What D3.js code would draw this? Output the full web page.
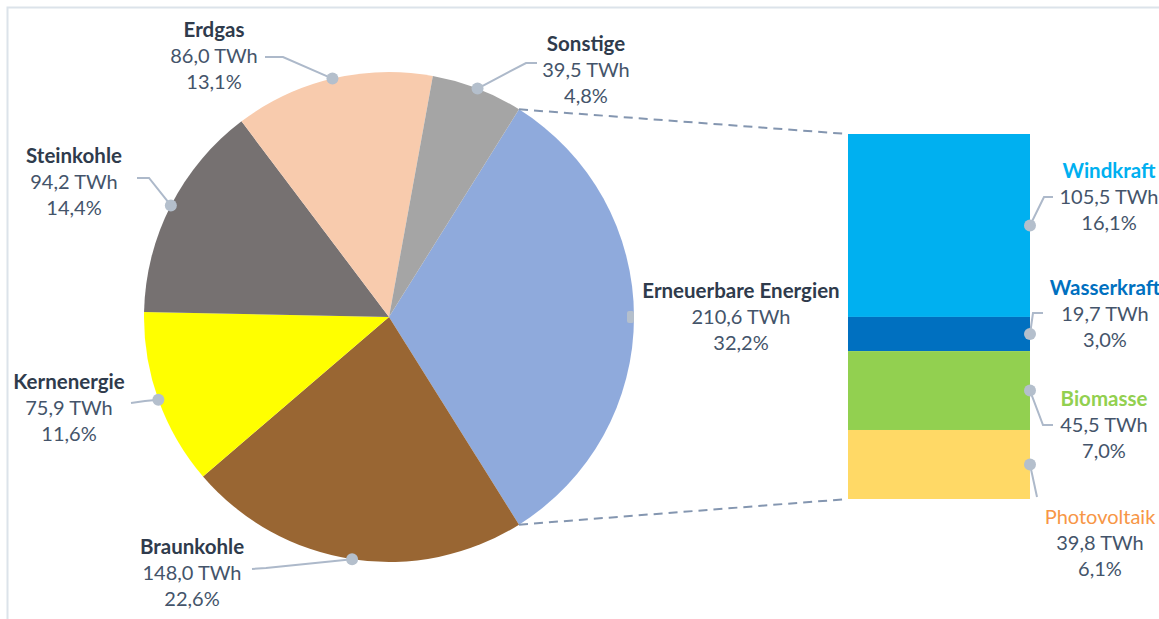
<!DOCTYPE html>
<html>
<head>
<meta charset="utf-8">
<script src="https://cdn.jsdelivr.net/npm/d3@7"></script>
<style>
  html, body { margin: 0; padding: 0; background: #fff; }
  svg { display: block; }
  text { font-family: Lato, "Open Sans", sans-serif; }
</style>
</head>
<body>
<svg id="chart" width="1159" height="619"></svg>
<script>
// Stromerzeugung nach Energieträgern (TWh)
const categories = ["Erneuerbare Energien", "Braunkohle", "Kernenergie", "Steinkohle", "Erdgas", "Sonstige"];
const values = [210.6, 148.0, 75.9, 94.2, 86.0, 39.5];
const shareLabels = ["32,2%", "22,6%", "11,6%", "14,4%", "13,1%", "4,8%"];

// Aufteilung der erneuerbaren Energien
const subCategories = ["Windkraft", "Wasserkraft", "Biomasse", "Photovoltaik"];
const subValues = [105.5, 19.7, 45.5, 39.8];
const subShareLabels = ["16,1%", "3,0%", "7,0%", "6,1%"];

const pieColors = ["#8FAADC", "#996633", "#FFFF00", "#767171", "#F8CBAD", "#A5A5A5"];
const barColors = ["#00B0F0", "#0070C0", "#92D050", "#FFD966"];
const subTitleColors = ["#00B0F0", "#0070C0", "#92D050", "#F79646"];

const fmtTWh = v => d3.format(".1f")(v).replace(".", ",") + " TWh";

const svg = d3.select("#chart");

// light frame around the plot area
svg.append("rect")
  .attr("x", 7.5).attr("y", 7.5)
  .attr("width", 1170).attr("height", 630)
  .attr("fill", "none").attr("stroke", "#DCE3EA").attr("stroke-width", 2);

// ---- Pie ----
const cx = 389, cy = 317, R = 245;
const total = d3.sum(values);
const firstSpan = values[0] / total * 2 * Math.PI;
const start = Math.PI / 2 - firstSpan / 2;   // centre the first slice on the right

const pie = d3.pie().sort(null).value(d => d.v)
  .startAngle(start).endAngle(start + 2 * Math.PI);
const arcs = pie(categories.map((c, i) => ({ c, v: values[i], i })));
const arc = d3.arc().innerRadius(0).outerRadius(R);

const gPie = svg.append("g").attr("transform", `translate(${cx},${cy})`);
gPie.selectAll("path").data(arcs).join("path")
  .attr("d", arc)
  .attr("fill", d => pieColors[d.data.i]);

const edgePoint = (a) => [cx + R * Math.sin(a), cy - R * Math.cos(a)];

// ---- Stacked bar ----
const barX0 = 848, barX1 = 1030, barTop = 134, barBottom = 499;
const subTotal = d3.sum(subValues);
const yBar = d3.scaleLinear().domain([0, subTotal]).range([barTop, barBottom]);
const cum = d3.cumsum(subValues);
const segs = subValues.map((v, i) => ({ i, y0: cum[i] - v, y1: cum[i] }));

svg.append("g").selectAll("rect").data(segs).join("rect")
  .attr("x", barX0).attr("width", barX1 - barX0)
  .attr("y", d => yBar(d.y0))
  .attr("height", d => yBar(d.y1) - yBar(d.y0))
  .attr("fill", d => barColors[d.i]);

// dashed connectors from the renewable slice to the bar
const eArc = arcs[0];
const pTop = edgePoint(eArc.startAngle);
const pBot = edgePoint(eArc.endAngle);
const conn = svg.append("g").attr("stroke", "#8496B0").attr("stroke-width", 2)
  .attr("stroke-dasharray", "9,6").attr("fill", "none");
conn.append("line").attr("x1", pTop[0]).attr("y1", pTop[1]).attr("x2", barX0).attr("y2", yBar(0));
conn.append("line").attr("x1", pBot[0]).attr("y1", pBot[1]).attr("x2", barX0).attr("y2", yBar(subTotal));

// ---- Labels ----
const leaderColor = "#ADB9CA";
const titleColor = "#2F3B4C";
const valueColor = "#44546A";
const lineGap = 26;

// label placement: centre of the title line and leader route (text end -> elbow)
const pieLabelLayout = [
  { x: 741, y: 291, leader: null },
  { x: 192, y: 547, leader: [[252, 569], [266, 568]] },
  { x: 69,  y: 382, leader: [[131, 403], [145, 401]] },
  { x: 74,  y: 156, leader: [[137, 178], [149, 178]] },
  { x: 214, y: 30,  leader: [[265, 57], [283, 57]] },
  { x: 586, y: 44,  leader: [[537, 63], [526, 63]] }
];
const barLabelLayout = [
  { x: 1109, y: 171, leader: [[1053, 197], [1044, 197]] },
  { x: 1105, y: 288, leader: [[1043, 313], [1033, 313]] },
  { x: 1104, y: 399, leader: [[1053, 425], [1043, 425]] },
  { x: 1100, y: 517, leader: [[1037, 497], [1037, 497]] }
];

const gLead = svg.append("g");
const gText = svg.append("g").attr("text-anchor", "middle").attr("font-size", 20);

function drawLabel(layout, dot, title, valueText, shareText, tColor, bold) {
  if (layout.leader) {
    const pts = [layout.leader[0], layout.leader[1], dot];
    gLead.append("path")
      .attr("d", d3.line()(pts))
      .attr("fill", "none").attr("stroke", leaderColor).attr("stroke-width", 2);
    gLead.append("circle").attr("cx", dot[0]).attr("cy", dot[1]).attr("r", 6)
      .attr("fill", "#B4BFCC");
  }
  const t = gText.append("text").attr("x", layout.x).attr("y", layout.y).attr("dy", "0.35em");
  t.append("tspan").attr("x", layout.x).text(title)
    .attr("fill", tColor).attr("font-weight", bold ? 700 : 400)
    .attr("font-size", bold ? 20.5 : 20);
  t.append("tspan").attr("x", layout.x).attr("dy", lineGap).text(valueText).attr("fill", valueColor);
  t.append("tspan").attr("x", layout.x).attr("dy", lineGap).text(shareText).attr("fill", valueColor);
}

arcs.forEach((d, k) => {
  const mid = (d.startAngle + d.endAngle) / 2;
  const dot = edgePoint(mid);
  drawLabel(pieLabelLayout[k], dot, categories[k], fmtTWh(values[k]), shareLabels[k], titleColor, true);
});

// small marker where the renewable label attaches
const eDot = edgePoint((eArc.startAngle + eArc.endAngle) / 2);
gLead.append("rect").attr("x", eDot[0] - 7).attr("y", eDot[1] - 6)
  .attr("width", 7).attr("height", 12).attr("rx", 2).attr("fill", "#B4BFCC");

segs.forEach(s => {
  const dot = [barX1, yBar((s.y0 + s.y1) / 2)];
  drawLabel(barLabelLayout[s.i], dot, subCategories[s.i], fmtTWh(subValues[s.i]),
    subShareLabels[s.i], subTitleColors[s.i], s.i !== 3);
});
</script>
</body>
</html>
